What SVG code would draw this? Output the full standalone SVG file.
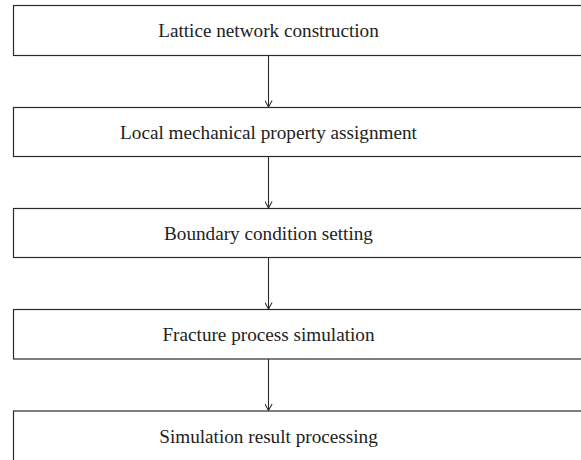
<svg xmlns="http://www.w3.org/2000/svg" width="581" height="460" viewBox="0 0 581 460">
<style>
.box{fill:#fff;stroke:#2a2a2a;stroke-width:1.2}
.lbl{font-family:"Liberation Serif",serif;font-size:19.2px;fill:#222;text-anchor:middle}
.con{stroke:#2a2a2a;stroke-width:1.1;fill:none}
</style>
<defs>
<marker id="ah" viewBox="0 0 10 10" refX="10" refY="5" markerWidth="8" markerHeight="8" markerUnits="userSpaceOnUse" orient="auto">
<path d="M2,0.5 L10,5 L2,9.5" fill="none" stroke="#2a2a2a" stroke-width="1.3"/>
</marker>
</defs>
<rect width="581" height="460" fill="#fff"/>
<g id="connectors">
<line class="con" x1="268.5" y1="55.5" x2="268.5" y2="107" marker-end="url(#ah)"/>
<line class="con" x1="268.5" y1="156.5" x2="268.5" y2="208" marker-end="url(#ah)"/>
<line class="con" x1="268.5" y1="257.5" x2="268.5" y2="309" marker-end="url(#ah)"/>
<line class="con" x1="268.5" y1="359" x2="268.5" y2="410.5" marker-end="url(#ah)"/>
</g>
<g id="n1"><rect class="box" x="13.5" y="5.5" width="580" height="50"/><text class="lbl" x="268.5" y="36.5">Lattice network construction</text></g>
<g id="n2"><rect class="box" x="13.5" y="107.5" width="580" height="49"/><text class="lbl" x="268.5" y="138.5">Local mechanical property assignment</text></g>
<g id="n3"><rect class="box" x="13.5" y="208.5" width="580" height="49"/><text class="lbl" x="268.5" y="239.5">Boundary condition setting</text></g>
<g id="n4"><rect class="box" x="13.5" y="309.5" width="580" height="49.5"/><text class="lbl" x="268.5" y="340.5">Fracture process simulation</text></g>
<g id="n5"><rect class="box" x="13.5" y="411" width="580" height="60"/><text class="lbl" x="268.5" y="442.5">Simulation result processing</text></g>
</svg>
